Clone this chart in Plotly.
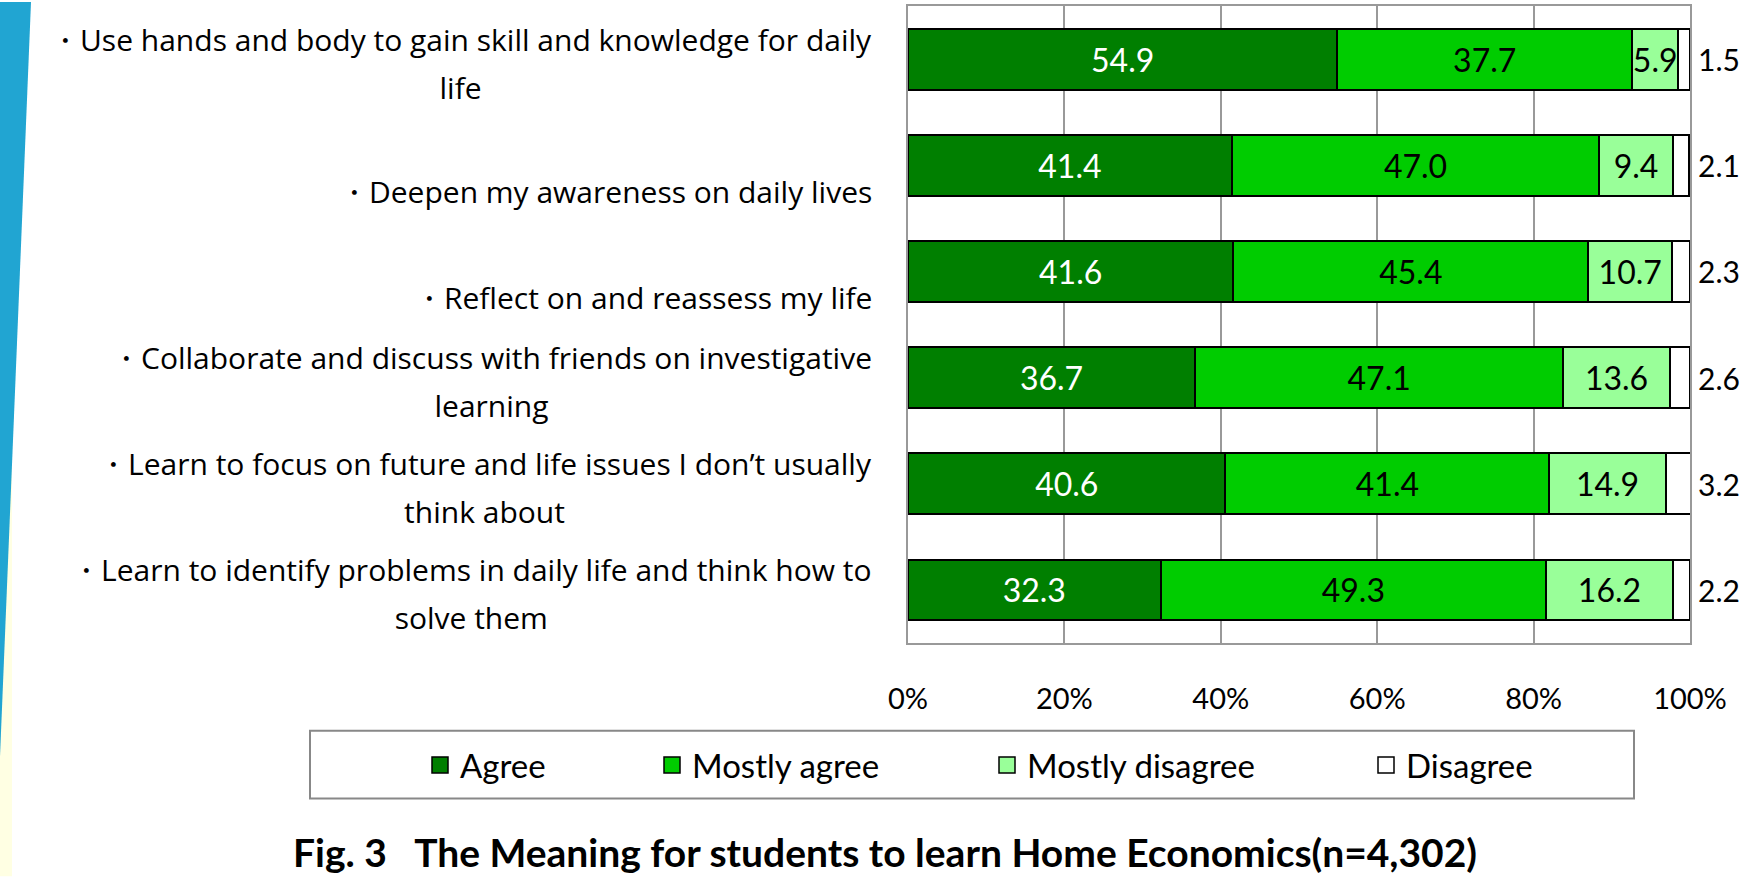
import plotly.graph_objects as go

# survey results (% of n=4,302)
items = [
    "・Use hands and body to gain skill and knowledge for daily<br>life",
    "・Deepen my awareness on daily lives",
    "・Reflect on and reassess my life",
    "・Collaborate and discuss with friends on investigative<br>learning",
    "・Learn to focus on future and life issues I don’t usually<br>think about",
    "・Learn to identify problems in daily life and think how to<br>solve them",
]
agree = [54.9, 41.4, 41.6, 36.7, 40.6, 32.3]
mostly_agree = [37.7, 47.0, 45.4, 47.1, 41.4, 49.3]
mostly_disagree = [5.9, 9.4, 10.7, 13.6, 14.9, 16.2]
disagree = [1.5, 2.1, 2.3, 2.6, 3.2, 2.2]

series = ["Agree", "Mostly agree", "Mostly disagree", "Disagree"]
colors = ["#007F00", "#00CC00", "#99FF99", "#FFFFFF"]
text_colors = ["white", "black", "black", "black"]

W, H = 1745, 877
PL, PR, PT, PB = 908, 1690, 4, 643   # plot area in pixels
FONT = "Lato"
LABEL_FONT = "Open Sans"


def px_x(p):
    return (p - PL) / (PR - PL)


def px_y(p):
    return (PB - p) / (PB - PT)


fig = go.Figure()

for name, vals, col, tcol in zip(series, [agree, mostly_agree, mostly_disagree, disagree],
                                 colors, text_colors):
    fig.add_trace(go.Bar(
        y=items, x=vals, orientation="h", name=name,
        marker=dict(color=col, line=dict(color="black", width=2)),
        text=[f"{v:.1f}" for v in vals] if name != "Disagree" else None,
        textposition="inside", insidetextanchor="middle", constraintext="none", textangle=0,
        textfont=dict(family=FONT, size=32, color=tcol),
        showlegend=False,
    ))

# legend entries (one legend each so they can be spaced like the original)
leg_x = [432, 664, 999, 1378]
for i, (name, col) in enumerate(zip(series, colors)):
    lname = "legend" if i == 0 else f"legend{i + 1}"
    fig.add_trace(go.Scatter(
        x=[None], y=[None], mode="markers", name=name, legend=lname,
        marker=dict(symbol="square", size=16, color=col, line=dict(color="black", width=1.5)),
    ))
    fig.update_layout({lname: dict(
        xref="container", yref="container", x=(leg_x[i] - 12) / W, y=1 - 765 / H,
        xanchor="left", yanchor="middle", orientation="h",
        font=dict(family=FONT, size=33, color="black"),
        bgcolor="rgba(0,0,0,0)", borderwidth=0, itemclick=False,
    )})

# category labels: big annotation font sets the wide line spacing, spans set the text size
for it in items:
    two_lines = "<br>" in it
    txt = "<br>".join(f"<span style='font-size:30px'>{ln}</span>" for ln in it.split("<br>"))
    fig.add_annotation(
        x=px_x(874), xref="paper", y=it, yref="y", text=txt,
        xanchor="right", yanchor="middle", align="center", showarrow=False,
        yshift=-4 if two_lines else -26,
        font=dict(family=LABEL_FONT, size=37, color="black"),
    )

# Disagree values outside the bars
for it, v in zip(items, disagree):
    fig.add_annotation(
        x=100, xref="x", y=it, yref="y", text=f"{v:.1f}", xanchor="left",
        xshift=6, showarrow=False, font=dict(family=FONT, size=30, color="black"),
    )

# title
fig.add_annotation(
    x=px_x(885), xref="paper", y=px_y(853), yref="paper",
    text="<b>Fig. 3   The Meaning for students to learn Home Economics(n=4,302)</b>",
    showarrow=False, xanchor="center", yanchor="middle",
    font=dict(family=FONT, size=39, color="black"),
)

shapes = [
    # pale yellow strip and blue slanted band at the left edge
    dict(type="rect", xref="paper", yref="paper", x0=px_x(0), x1=px_x(12), y0=px_y(0), y1=px_y(H),
         fillcolor="#FFFFE3", line=dict(width=0), layer="below"),
    dict(type="path", xref="paper", yref="paper",
         path=f"M {px_x(0)} {px_y(0)} L {px_x(31)} {px_y(0)} L {px_x(0)} {px_y(757)} Z",
         fillcolor="#21A5D2", line=dict(width=0), layer="below"),
    # legend frame
    dict(type="rect", xref="paper", yref="paper", x0=px_x(310), x1=px_x(1634), y0=px_y(731), y1=px_y(799),
         fillcolor="rgba(0,0,0,0)", line=dict(color="#888888", width=2)),
]

fig.update_layout(
    width=W, height=H,
    margin=dict(l=PL, r=W - PR, t=PT, b=H - PB),
    barmode="stack", bargap=0.427,
    plot_bgcolor="white", paper_bgcolor="white",
    shapes=shapes,
    xaxis=dict(range=[0, 100], dtick=20, ticksuffix="%", showgrid=True, gridcolor="#999999",
               gridwidth=2, showline=True, linecolor="#999999", linewidth=2, mirror=True,
               zeroline=False, ticklabelstandoff=29, fixedrange=True,
               tickfont=dict(family=FONT, size=29, color="black")),
    yaxis=dict(autorange="reversed", showticklabels=False, showline=True, linecolor="#999999",
               linewidth=2, mirror=True, showgrid=False, fixedrange=True),
)

fig.write_html("out.html", config={"displayModeBar": False},
               post_script="document.body.style.margin='0';")
